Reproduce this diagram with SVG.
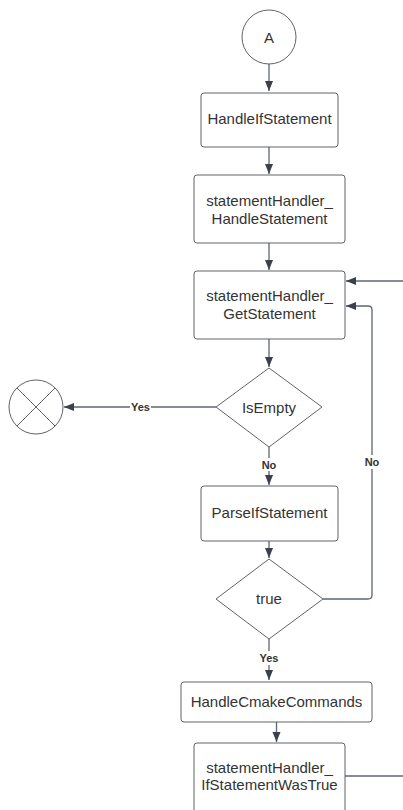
<svg xmlns="http://www.w3.org/2000/svg" width="403" height="810" viewBox="0 0 403 810">
  <style>
    .node { fill: #ffffff; stroke: #5f6368; stroke-width: 1; }
    .label { font-family: "Liberation Sans", Arial, sans-serif; font-size: 15px; fill: #333333; text-anchor: middle; dominant-baseline: central; }
    .edge { fill: none; stroke: #5e6570; stroke-width: 1.3; }
    .elabel { font-family: "Liberation Sans", Arial, sans-serif; font-size: 11px; font-weight: bold; fill: #333333; text-anchor: middle; dominant-baseline: central; }
    .lblbg { fill: #ffffff; }
  </style>
  <defs>
    <marker id="arrow" viewBox="0 0 10 10" refX="10" refY="5" markerWidth="10" markerHeight="10" markerUnits="userSpaceOnUse" orient="auto">
      <path d="M0,1 L10,5 L0,9 Z" fill="#3a414a"/>
    </marker>
  </defs>
  <rect width="403" height="810" fill="#ffffff"/>

  <!-- connectors -->
  <g id="connectors">
    <path class="edge" d="M269,64 V91" marker-end="url(#arrow)"/>
    <path class="edge" d="M269,147 V174" marker-end="url(#arrow)"/>
    <path class="edge" d="M269,243 V270" marker-end="url(#arrow)"/>
    <path class="edge" d="M403,281 H346" marker-end="url(#arrow)"/>
    <path class="edge" d="M269,339 V367" marker-end="url(#arrow)"/>
    <path class="edge" d="M216,407 H64" marker-end="url(#arrow)"/>
    <rect class="lblbg" x="130" y="400" width="21" height="14"/>
    <text class="elabel" x="140.5" y="407">Yes</text>
    <path class="edge" d="M269,447 V485" marker-end="url(#arrow)"/>
    <rect class="lblbg" x="260" y="458" width="18" height="13"/>
    <text class="elabel" x="269" y="464.5">No</text>
    <path class="edge" d="M269,541 V558" marker-end="url(#arrow)"/>
    <path class="edge" d="M323,599 H368 Q372,599 372,595 V310 Q372,306 368,306 H346" marker-end="url(#arrow)"/>
    <rect class="lblbg" x="363" y="455" width="18" height="14"/>
    <text class="elabel" x="372" y="462">No</text>
    <path class="edge" d="M269,639 V680" marker-end="url(#arrow)"/>
    <rect class="lblbg" x="258" y="651" width="22" height="14"/>
    <text class="elabel" x="269" y="658">Yes</text>
    <path class="edge" d="M276.5,722 V742" marker-end="url(#arrow)"/>
    <path class="edge" d="M345,776 H403"/>
  </g>

  <g id="start-a">
    <circle class="node" cx="269" cy="37" r="27"/>
    <text class="label" x="269" y="37">A</text>
  </g>

  <g id="handle-if-statement">
    <rect class="node" x="201" y="93" width="137" height="54" rx="3"/>
    <text class="label" x="269.5" y="118">HandleIfStatement</text>
  </g>

  <g id="handle-statement">
    <rect class="node" x="194" y="175" width="151" height="68" rx="3"/>
    <text class="label" x="269.5" y="200">statementHandler_</text>
    <text class="label" x="269.5" y="218">HandleStatement</text>
  </g>

  <g id="get-statement">
    <rect class="node" x="194" y="271" width="151" height="68" rx="3"/>
    <text class="label" x="269.5" y="295">statementHandler_</text>
    <text class="label" x="269.5" y="313">GetStatement</text>
  </g>

  <g id="is-empty">
    <path class="node" d="M269,368 L322,407 L269,447 L216,407 Z" stroke-linejoin="round"/>
    <text class="label" x="269" y="407">IsEmpty</text>
  </g>

  <g id="end">
    <circle class="node" cx="36" cy="407" r="27"/>
    <path d="M16.9,387.9 L55.1,426.1 M55.1,387.9 L16.9,426.1" stroke="#5f6368" stroke-width="1" fill="none"/>
  </g>

  <g id="parse-if-statement">
    <rect class="node" x="201" y="486" width="137" height="55" rx="3"/>
    <text class="label" x="269.5" y="512">ParseIfStatement</text>
  </g>

  <g id="is-true">
    <path class="node" d="M269,559 L323,599 L269,639 L216,599 Z" stroke-linejoin="round"/>
    <text class="label" x="269" y="598">true</text>
  </g>

  <g id="handle-cmake-commands">
    <rect class="node" x="181" y="682" width="191" height="40" rx="3"/>
    <text class="label" x="276.5" y="701">HandleCmakeCommands</text>
  </g>

  <g id="if-statement-was-true">
    <rect class="node" x="194" y="743" width="151" height="80" rx="3"/>
    <text class="label" x="269.5" y="767">statementHandler_</text>
    <text class="label" x="269.5" y="784">IfStatementWasTrue</text>
  </g>
</svg>
